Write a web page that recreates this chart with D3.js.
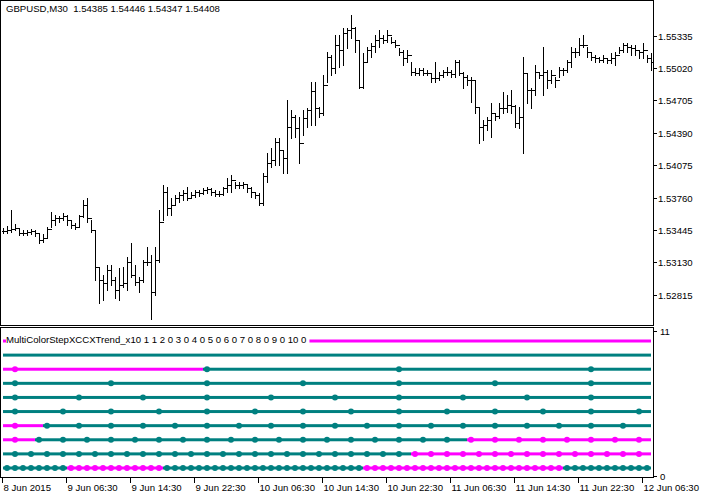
<!DOCTYPE html>
<html><head><meta charset="utf-8">
<script src="https://cdn.jsdelivr.net/npm/d3@7"></script>
<style>body{margin:0;background:#fff}svg{display:block;font-family:"Liberation Sans",Arial,sans-serif;font-size:9.6px}text{white-space:pre}</style>
</head><body><svg id="c" width="705" height="498"></svg>
<script>
// [high, low, close] per M30 bar; open = previous close
const bars = [
[1.53466,1.53417,1.53437],[1.53485,1.53417,1.53446],[1.53641,1.53427,1.53456],[1.53505,1.53446,1.53466],[1.53466,1.53398,1.53417],
[1.53446,1.53398,1.53417],[1.53446,1.53398,1.53427],[1.53456,1.53407,1.53437],[1.53446,1.53388,1.53417],[1.53417,1.53320,1.53349],
[1.53407,1.53330,1.53369],[1.53476,1.53369,1.53456],[1.53621,1.53476,1.53544],[1.53592,1.53495,1.53563],[1.53583,1.53524,1.53563],
[1.53612,1.53544,1.53583],[1.53592,1.53495,1.53544],[1.53544,1.53466,1.53495],[1.53514,1.53456,1.53476],[1.53592,1.53476,1.53583],
[1.53738,1.53573,1.53689],[1.53757,1.53524,1.53563],[1.53544,1.53427,1.53446],[1.53446,1.52960,1.53087],[1.53087,1.52737,1.52960],
[1.53009,1.52766,1.52931],[1.53106,1.52863,1.53058],[1.53106,1.52912,1.52960],[1.52990,1.52785,1.52863],[1.53077,1.52766,1.52912],
[1.53087,1.52892,1.52931],[1.53184,1.52863,1.53135],[1.53320,1.52990,1.53009],[1.53106,1.52912,1.52941],[1.52990,1.52844,1.52960],
[1.53155,1.52941,1.53135],[1.53281,1.53106,1.53135],[1.53203,1.52578,1.52844],[1.53281,1.52815,1.53155],[1.53641,1.53135,1.53524],
[1.53884,1.53544,1.53816],[1.53864,1.53592,1.53660],[1.53757,1.53592,1.53689],[1.53787,1.53689,1.53757],[1.53816,1.53718,1.53787],
[1.53835,1.53738,1.53806],[1.53864,1.53738,1.53757],[1.53816,1.53757,1.53787],[1.53835,1.53767,1.53816],[1.53835,1.53777,1.53806],
[1.53855,1.53796,1.53835],[1.53864,1.53806,1.53845],[1.53855,1.53787,1.53816],[1.53835,1.53777,1.53796],[1.53825,1.53777,1.53796],
[1.53864,1.53787,1.53855],[1.53952,1.53816,1.53884],[1.53981,1.53816,1.53932],[1.53913,1.53855,1.53884],[1.53913,1.53855,1.53884],
[1.53913,1.53855,1.53894],[1.53884,1.53816,1.53855],[1.53864,1.53767,1.53816],[1.53816,1.53757,1.53787],[1.53806,1.53689,1.53709],
[1.54000,1.53689,1.53971],[1.54195,1.53913,1.54098],[1.54243,1.54059,1.54127],[1.54341,1.54078,1.54302],[1.54341,1.54078,1.54224],
[1.54224,1.54000,1.54146],[1.54710,1.54000,1.54448],[1.54613,1.54341,1.54545],[1.54564,1.54350,1.54438],[1.54545,1.54098,1.54292],
[1.54613,1.54370,1.54535],[1.54632,1.54448,1.54613],[1.54885,1.54467,1.54797],[1.54885,1.54467,1.54632],[1.54642,1.54545,1.54584],
[1.54953,1.54564,1.54856],[1.55177,1.54885,1.55128],[1.55147,1.54953,1.55021],[1.55342,1.54972,1.55245],[1.55342,1.55031,1.55196],
[1.55410,1.55050,1.55361],[1.55410,1.55215,1.55390],[1.55536,1.55313,1.55410],[1.55420,1.55177,1.55293],[1.55293,1.54827,1.54836],
[1.55167,1.54827,1.55079],[1.55225,1.55079,1.55196],[1.55264,1.55128,1.55235],[1.55342,1.55177,1.55293],[1.55390,1.55225,1.55313],
[1.55342,1.55264,1.55293],[1.55390,1.55274,1.55342],[1.55322,1.55264,1.55274],[1.55293,1.55225,1.55245],[1.55215,1.55147,1.55177],
[1.55196,1.55050,1.55118],[1.55196,1.55079,1.55147],[1.55079,1.54953,1.54982],[1.55021,1.54953,1.54972],[1.55021,1.54953,1.55002],
[1.55021,1.54953,1.54972],[1.55002,1.54953,1.54972],[1.54972,1.54885,1.54924],[1.55079,1.54885,1.54924],[1.54982,1.54904,1.54953],
[1.55002,1.54934,1.54982],[1.55031,1.54953,1.54982],[1.55002,1.54934,1.54963],[1.55099,1.54934,1.55079],[1.55099,1.54953,1.54972],
[1.54982,1.54827,1.54934],[1.54953,1.54856,1.54904],[1.54934,1.54691,1.54904],[1.54904,1.54584,1.54642],[1.54642,1.54292,1.54448],
[1.54516,1.54321,1.54467],[1.54545,1.54418,1.54516],[1.54681,1.54350,1.54584],[1.54584,1.54516,1.54555],[1.54681,1.54535,1.54632],
[1.54788,1.54584,1.54632],[1.54759,1.54593,1.54661],[1.54807,1.54584,1.54652],[1.54661,1.54448,1.54486],[1.54642,1.54438,1.54545],
[1.55128,1.54195,1.54972],[1.54972,1.54681,1.54807],[1.54827,1.54632,1.54807],[1.55050,1.54759,1.54982],[1.54982,1.54924,1.54953],
[1.55225,1.54759,1.54982],[1.55002,1.54827,1.54904],[1.55002,1.54875,1.54953],[1.54934,1.54836,1.54904],[1.55031,1.54934,1.55002],
[1.55021,1.54953,1.55002],[1.55099,1.54982,1.55079],[1.55225,1.55031,1.55177],[1.55215,1.55128,1.55177],[1.55313,1.55147,1.55245],
[1.55342,1.55225,1.55245],[1.55225,1.55128,1.55177],[1.55177,1.55099,1.55128],[1.55147,1.55079,1.55118],[1.55128,1.55079,1.55099],
[1.55147,1.55079,1.55118],[1.55118,1.55070,1.55099],[1.55167,1.55070,1.55118],[1.55177,1.55050,1.55147],[1.55225,1.55167,1.55196],
[1.55264,1.55177,1.55245],[1.55264,1.55177,1.55225],[1.55245,1.55147,1.55215],[1.55245,1.55147,1.55196],[1.55196,1.55118,1.55177],
[1.55264,1.55118,1.55196],[1.55147,1.55079,1.55118],[1.55167,1.55002,1.55079]
];
const priceTicks = [1.55335,1.55020,1.54705,1.54390,1.54075,1.53760,1.53445,1.53130,1.52815];
const timeTicks = [[0,"8 Jun 2015"],[16,"9 Jun 06:30"],[32,"9 Jun 14:30"],[48,"9 Jun 22:30"],[64,"10 Jun 06:30"],[80,"10 Jun 14:30"],[96,"10 Jun 22:30"],[112,"11 Jun 06:30"],[128,"11 Jun 14:30"],[144,"11 Jun 22:30"],[160,"12 Jun 06:30"]];
// indicator levels 1..10: dot step (bars) and "down" (magenta) bar ranges
const levels = [1,2,3,4,5,6,7,8,9,10];
const levelSteps = [2,4,6,8,12,16,24,48,0,0];
const levelDown = [[[16,39],[90,139]],[[102,162]],[[0,7],[116,162]],[[0,9]],[],[],[],[[0,49]],[],[[0,162]]];
const indTicks = [0,11];
const title = "GBPUSD,M30  1.54385 1.54446 1.54347 1.54408";
const indTitle = "MultiColorStepXCCXTrend_x10 1 1 2 0 3 0 4 0 5 0 6 0 7 0 8 0 9 0 10 0";

const UP="#008080", DN="#ff00ff";
const svg=d3.select("#c");
const N=bars.length;
const x=d3.scaleLinear([0,N-1],[3,651]);
const y=d3.scaleLinear([priceTicks[0],priceTicks[priceTicks.length-1]],[35.7,294.9]);
const ly=d3.scaleLinear([1,10],[468,341]);
const iy=d3.scaleLinear([0,11],[476,331]);
const px=v=>Math.round(v)+0.5;

svg.append("rect").attr("x",0.5).attr("y",0.5).attr("width",653).attr("height",325).attr("fill","none").attr("stroke","#000");
svg.append("rect").attr("x",0.5).attr("y",327.5).attr("width",653).attr("height",150).attr("fill","none").attr("stroke","#000");

const ax=svg.append("g").attr("transform","translate(653,0)");
priceTicks.forEach(t=>{
  const yy=px(y(t));
  ax.append("line").attr("x1",0).attr("x2",4).attr("y1",yy).attr("y2",yy).attr("stroke","#000");
  ax.append("text").attr("x",5).attr("y",yy).attr("dy","0.35em").text(t.toFixed(5));
});
indTicks.forEach(t=>{
  const yy=px(iy(t));
  ax.append("line").attr("x1",0).attr("x2",4).attr("y1",yy).attr("y2",yy).attr("stroke","#000");
  ax.append("text").attr("x",7).attr("y",yy).attr("dy","0.35em").text(t);
});
timeTicks.forEach(([i,l])=>{
  const xx=px(x(i)-1);
  svg.append("line").attr("x1",xx).attr("x2",xx).attr("y1",478).attr("y2",483).attr("stroke","#000");
  svg.append("text").attr("x",xx+1).attr("y",488).attr("dy","0.35em").text(l);
});

const g=svg.append("g").attr("stroke","#000").attr("stroke-width",1).attr("shape-rendering","crispEdges");
bars.forEach((b,i)=>{
  const xx=px(x(i)); const o=i>0?bars[i-1][2]:b[2];
  g.append("line").attr("x1",xx).attr("x2",xx).attr("y1",Math.round(y(b[0]))).attr("y2",Math.round(y(b[1]))+1);
  g.append("line").attr("x1",xx-2).attr("x2",xx).attr("y1",px(y(o))).attr("y2",px(y(o)));
  g.append("line").attr("x1",xx).attr("x2",xx+2).attr("y1",px(y(b[2]))).attr("y2",px(y(b[2])));
});
svg.append("text").attr("x",6).attr("y",9).attr("dy","0.35em").text(title);

const ig=svg.append("g");
levels.forEach((lv,k)=>{
  const isDn=i=>levelDown[k].some(([a,b])=>i>=a&&i<=b);
  const yy=ly(lv);
  for(let i=0;i<N-1;i++){
    ig.append("line").attr("x1",x(i)).attr("x2",x(i+1)+0.01).attr("y1",yy).attr("y2",yy)
      .attr("stroke",isDn(i)?DN:UP).attr("stroke-width",3);
  }
  const s=levelSteps[k];
  if(s>0){
    for(let i=0;i<N;i++){
      if(((i-3)%s+s)%s===0){
        ig.append("circle").attr("cx",x(i)).attr("cy",yy).attr("r",3).attr("fill",isDn(i)?DN:UP);
      }
    }
  }
});
const bg=svg.append("rect").attr("fill","#fff");
const tt=svg.append("text").attr("x",6).attr("y",340).attr("dy","0.35em").text(indTitle);
const bb=tt.node().getBBox();
bg.attr("x",bb.x).attr("y",bb.y).attr("width",bb.width+3).attr("height",bb.height);
</script></body></html>
